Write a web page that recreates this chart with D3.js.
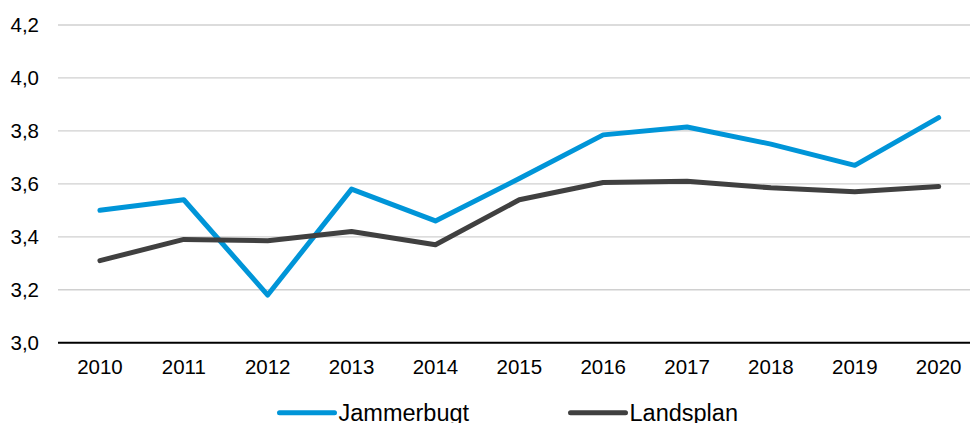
<!DOCTYPE html>
<html><head><meta charset="utf-8">
<script src="https://cdn.jsdelivr.net/npm/d3@7"></script>
<style>body{margin:0;background:#fff;}svg{display:block;font-family:"Liberation Sans",Arial,sans-serif;}</style>
</head><body>
<svg id="c" width="970" height="423"></svg>
<script>
const years = ["2010","2011","2012","2013","2014","2015","2016","2017","2018","2019","2020"];
const jammerbugt = [3.50,3.54,3.18,3.58,3.46,3.62,3.785,3.815,3.75,3.67,3.85];
const landsplan = [3.31,3.39,3.385,3.42,3.37,3.54,3.605,3.61,3.585,3.57,3.59];
const yTicks = [3.0,3.2,3.4,3.6,3.8,4.0,4.2];
const seriesNames = ["Jammerbugt","Landsplan"];
const seriesColors = ["#0095D8","#404040"];

const svg = d3.select("#c");
const x = d3.scaleBand().domain(years).range([58, 980.6]);
const y = d3.scaleLinear().domain([3.0, 4.2]).range([342.7, 25]);
const fmt = v => d3.format(".1f")(v).replace(".", ",");

// gridlines
svg.append("g").selectAll("line").data(yTicks.slice(1)).join("line")
  .attr("x1", 58).attr("x2", 970)
  .attr("y1", d => y(d)).attr("y2", d => y(d))
  .attr("stroke", "#d0d0d0").attr("stroke-width", 1.3);

// y labels
svg.append("g").selectAll("text").data(yTicks).join("text")
  .attr("x", 39).attr("y", d => y(d)).attr("dy", "0.36em")
  .attr("text-anchor", "end").attr("font-size", 20.5).attr("fill", "#000")
  .text(fmt);

// x axis
const xAxis = d3.axisBottom(x).tickSize(0).tickPadding(17);
const gx = svg.append("g").attr("transform", `translate(0,${y(3.0)})`).call(xAxis);
gx.select(".domain").attr("stroke", "#000").attr("stroke-width", 2).attr("d", `M58,0H970`);
gx.selectAll("text").attr("font-size", 20.5).attr("fill", "#000")
  .attr("font-family", '"Liberation Sans",Arial,sans-serif');

// lines
const line = d3.line().x((d, i) => x(years[i]) + x.bandwidth() / 2).y(d => y(d));
[jammerbugt, landsplan].forEach((s, k) => {
  svg.append("path").datum(s).attr("d", line)
    .attr("fill", "none").attr("stroke", seriesColors[k])
    .attr("stroke-width", 5).attr("stroke-linecap", "round").attr("stroke-linejoin", "round");
});

// legend
const legX = [279.5, 570.5];
seriesNames.forEach((n, k) => {
  svg.append("line").attr("x1", legX[k]).attr("x2", legX[k] + 55)
    .attr("y1", 412.7).attr("y2", 412.7)
    .attr("stroke", seriesColors[k]).attr("stroke-width", 5).attr("stroke-linecap", "round");
  svg.append("text").attr("x", legX[k] + 59).attr("y", 420.7)
    .attr("font-size", 23.5).attr("fill", "#000").text(n);
});
</script>
</body></html>
